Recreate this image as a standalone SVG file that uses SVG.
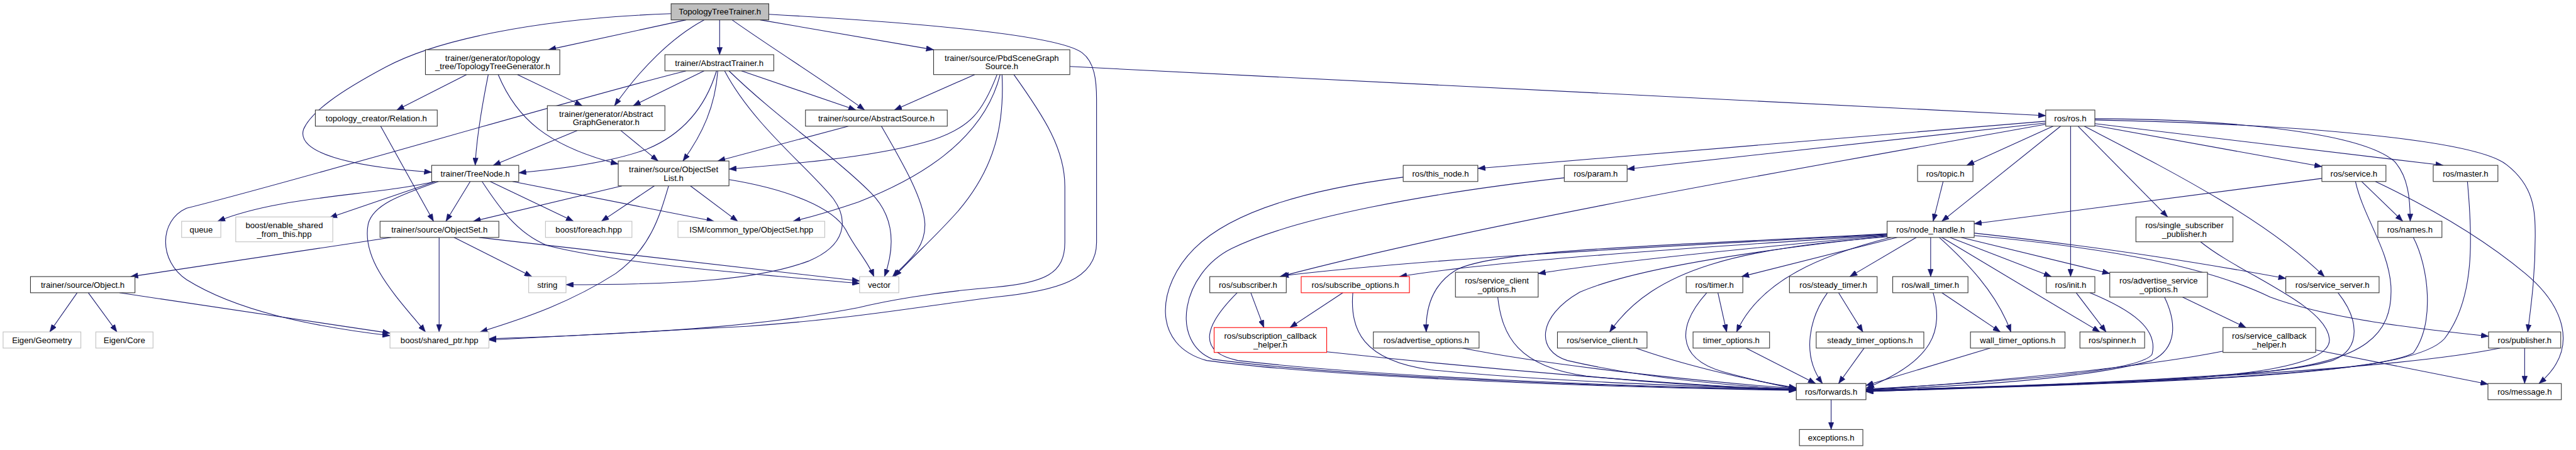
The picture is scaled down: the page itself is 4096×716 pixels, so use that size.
<svg xmlns="http://www.w3.org/2000/svg" width="4096" height="716" viewBox="0 0 4096 716">
<style>
.n rect{fill:#fff;stroke:#333;stroke-width:1.1}
.g rect{stroke:#bfbfbf}
.r rect{stroke:#ff0000}
.root rect{fill:#bfbfbf}
text{font-family:"Liberation Sans",Arial,sans-serif;font-size:13.33px;text-anchor:middle;fill:#000}
.e path{fill:none;stroke:#191970;stroke-width:1.1;marker-end:url(#ah)}
</style>
<defs>
<marker id="ah" markerUnits="userSpaceOnUse" markerWidth="12" markerHeight="9" refX="12" refY="4.5" orient="auto"><path d="M0,0 L12,4.5 L0,9 z" fill="#191970" stroke="#191970" stroke-width="0.5"/></marker>
</defs>
<rect width="4096" height="716" fill="#fff"/>
<g transform="scale(0.989)">
<g id="edges" class="e">
<path d="M1079,22 C860,30 700,65 620,108 C545,148 500,180 488,208 C476,245 560,268 694,277"/>
<path d="M1103,32 L882,80"/>
<path d="M1132,32 C1080,60 1030,110 988,170"/>
<path d="M1157,32 L1157,88"/>
<path d="M1177,32 C1230,70 1340,140 1390,177"/>
<path d="M1222,32 L1501,80"/>
<path d="M1236,23 C1450,35 1700,55 1740,85 C1760,100 1763,130 1763,160 L1763,390 C1763,450 1700,468 1600,478 C1480,493 1380,512 1200,525 L786,547"/>
<path d="M1630,120 C1680,190 1712,240 1712,300 L1712,390 C1712,440 1680,455 1600,462 C1500,470 1420,485 1380,495 C1250,520 1100,535 786,545"/>
<path d="M1152,114 C1135,170 1100,215 1040,240 C980,262 900,272 834,278"/>
<path d="M1132,114 L1018,170"/>
<path d="M1154,114 C1150,170 1130,215 1098,259"/>
<path d="M1192,114 L1376,177"/>
<path d="M1165,114 C1210,200 1300,270 1340,320 C1365,355 1360,395 1300,420 C1220,450 1100,458 910,458"/>
<path d="M1172,114 C1250,190 1340,250 1400,310 C1440,350 1438,400 1422,445"/>
<path d="M1103,114 C900,165 500,285 300,335 C255,355 255,420 300,450 C380,500 500,525 627,540"/>
<path d="M750,120 L638,177"/>
<path d="M785,120 C775,170 766,220 764,266"/>
<path d="M832,120 L936,170"/>
<path d="M801,120 C830,190 880,235 994,264"/>
<path d="M928,210 L793,266"/>
<path d="M998,210 L1058,259"/>
<path d="M612,203 L697,356"/>
<path d="M1364,203 L1154,259"/>
<path d="M1417,203 C1450,260 1485,320 1487,360 C1488,400 1460,420 1435,445"/>
<path d="M1567,120 L1438,177"/>
<path d="M1603,120 C1580,180 1560,205 1500,225 C1420,250 1300,262 1172,272"/>
<path d="M1608,120 C1580,230 1470,290 1380,325 C1330,342 1300,350 1275,356"/>
<path d="M1611,120 C1615,200 1600,270 1540,340 C1500,385 1470,410 1438,445"/>
<path d="M1720,107 L3289,186"/>
<path d="M1000,299 L761,356"/>
<path d="M1052,299 L967,356"/>
<path d="M1110,299 L1186,356"/>
<path d="M1075,299 C1060,350 1045,400 990,440 C920,485 850,510 772,534"/>
<path d="M1172,289 C1270,305 1340,335 1360,370 C1375,400 1395,420 1405,445"/>
<path d="M700,292 C600,315 450,315 350,356"/>
<path d="M700,292 L530,350"/>
<path d="M705,292 C640,315 600,330 592,360 C580,420 640,480 684,534"/>
<path d="M756,292 L717,356"/>
<path d="M788,292 L922,356"/>
<path d="M824,292 L1148,356"/>
<path d="M775,292 C800,330 830,375 880,395 C1000,425 1200,440 1382,456"/>
<path d="M629,382 L210,445"/>
<path d="M730,382 L855,445"/>
<path d="M706,382 L706,534"/>
<path d="M770,382 L1382,452"/>
<path d="M124,471 L80,534"/>
<path d="M142,471 L188,534"/>
<path d="M192,471 L627,536"/>
<path d="M3289,195 L2376,271"/>
<path d="M3289,198 L2616,272"/>
<path d="M3289,200 C2900,270 2400,355 2058,445"/>
<path d="M3301,203 L3162,266"/>
<path d="M3313,203 L3122,356"/>
<path d="M3329,203 L3329,445"/>
<path d="M3341,203 L3485,349"/>
<path d="M3351,203 C3480,270 3640,350 3737,445"/>
<path d="M3368,191 C3600,192 3800,215 3850,260 C3872,285 3875,320 3875,356"/>
<path d="M3368,193 C3700,200 3980,225 4030,265 C4075,300 4076,340 4076,380 C4076,450 4068,500 4064,534"/>
<path d="M3368,199 L3928,266"/>
<path d="M3368,202 L3733,268"/>
<path d="M3124,292 L3108,356"/>
<path d="M3733,287 L3174,360"/>
<path d="M3797,292 L3863,356"/>
<path d="M3819,292 C3920,340 4000,390 4060,440 C4120,490 4150,560 4082,617"/>
<path d="M3787,292 C3800,350 3840,400 3844,460 C3848,540 3800,580 3650,597 C3450,615 3200,622 3000,628"/>
<path d="M3967,292 C3975,380 3980,480 3930,545 C3880,600 3600,612 3000,630"/>
<path d="M3880,382 C3905,430 3915,520 3880,568 C3820,600 3500,615 3000,629"/>
<path d="M4059,560 L4059,617"/>
<path d="M4020,560 C3900,585 3600,610 3000,630"/>
<path d="M3759,471 C3790,510 3800,560 3750,580 C3650,610 3300,620 3000,628"/>
<path d="M3538,389 C3600,440 3740,490 3745,545 C3750,590 3600,605 3440,614 C3300,620 3150,626 3000,628"/>
<path d="M3723,563 L4000,618"/>
<path d="M3574,565 C3450,590 3200,615 3000,627"/>
<path d="M3509,478 L3611,527"/>
<path d="M3480,478 C3500,520 3500,560 3460,580 C3350,610 3150,622 3000,627"/>
<path d="M3338,471 L3386,534"/>
<path d="M3360,471 C3430,500 3470,530 3460,570 C3440,600 3200,615 3000,626"/>
<path d="M3122,471 L3216,534"/>
<path d="M3108,471 C3125,530 3110,580 3001,624"/>
<path d="M3200,560 L3000,620"/>
<path d="M2956,471 L2995,534"/>
<path d="M2938,471 C2910,510 2895,570 2930,617"/>
<path d="M2997,560 L2956,617"/>
<path d="M2762,471 L2776,534"/>
<path d="M2744,471 C2700,520 2690,575 2770,598 C2820,612 2860,620 2888,626"/>
<path d="M2807,560 L2919,617"/>
<path d="M2630,560 C2700,585 2800,610 2888,624"/>
<path d="M2351,560 C2500,590 2750,615 2888,625"/>
<path d="M2408,478 C2415,540 2440,590 2550,605 C2700,620 2800,624 2888,626"/>
<path d="M2159,471 L2074,527"/>
<path d="M2175,471 C2170,530 2190,580 2300,595 C2500,615 2750,622 2888,627"/>
<path d="M2133,566 C2400,595 2700,620 2888,627"/>
<path d="M2011,471 L2032,527"/>
<path d="M1989,471 C1940,520 1920,565 1990,580 C2200,605 2600,622 2888,627"/>
<path d="M2256,285 C2100,305 1980,340 1920,400 C1860,460 1850,555 1940,580 C2150,608 2600,624 2888,628"/>
<path d="M2515,286 C2300,310 2080,350 1980,400 C1900,440 1880,550 1950,578 C2150,606 2600,623 2888,627"/>
<path d="M3034,377 C2700,395 2300,415 2060,444"/>
<path d="M3034,378 C2700,400 2400,420 2250,445"/>
<path d="M3034,379 C2800,400 2600,420 2473,440"/>
<path d="M3034,376 C2700,395 2400,400 2340,435 C2300,460 2292,500 2293,534"/>
<path d="M3034,380 C2800,405 2620,435 2540,470 C2470,510 2470,565 2520,580 C2650,610 2800,622 2888,626"/>
<path d="M3034,381 C2800,400 2660,430 2588,534"/>
<path d="M3050,382 L2800,445"/>
<path d="M3040,382 C2930,410 2830,450 2792,534"/>
<path d="M3081,382 L2974,445"/>
<path d="M3104,382 L3104,445"/>
<path d="M3118,382 C3160,420 3210,470 3233,534"/>
<path d="M3122,382 L3376,534"/>
<path d="M3135,382 L3298,445"/>
<path d="M3153,382 L3392,440"/>
<path d="M3174,375 C3400,400 3550,425 3675,448"/>
<path d="M3174,379 C3400,400 3550,430 3650,478 C3750,515 3900,530 4001,541"/>
<path d="M2944,643 L2944,691"/>
</g>
<g id="n_root" class="n root"><rect x="1079" y="6" width="157" height="26"/><text x="1157.5" y="23.7">TopologyTreeTrainer.h</text></g>
<g id="n_tgen" class="n"><rect x="684" y="80" width="216" height="40"/><text x="792" y="97.7">trainer/generator/topology</text><text x="792" y="111.7">_tree/TopologyTreeGenerator.h</text></g>
<g id="n_relation" class="n"><rect x="507" y="177" width="196" height="26"/><text x="605" y="194.7">topology_creator/Relation.h</text></g>
<g id="n_treenode" class="n"><rect x="694" y="266" width="140" height="26"/><text x="764" y="283.7">trainer/TreeNode.h</text></g>
<g id="n_agg" class="n"><rect x="880" y="170" width="189" height="40"/><text x="974.5" y="187.7">trainer/generator/Abstract</text><text x="974.5" y="201.7">GraphGenerator.h</text></g>
<g id="n_at" class="n"><rect x="1069" y="88" width="175" height="26"/><text x="1156.5" y="105.7">trainer/AbstractTrainer.h</text></g>
<g id="n_asrc" class="n"><rect x="1295" y="177" width="228" height="26"/><text x="1409" y="194.7">trainer/source/AbstractSource.h</text></g>
<g id="n_pbd" class="n"><rect x="1501" y="80" width="219" height="40"/><text x="1610.5" y="97.7">trainer/source/PbdSceneGraph</text><text x="1610.5" y="111.7">Source.h</text></g>
<g id="n_osl" class="n"><rect x="994" y="259" width="178" height="40"/><text x="1083" y="276.7">trainer/source/ObjectSet</text><text x="1083" y="290.7">List.h</text></g>
<g id="n_queue" class="n g"><rect x="292" y="356" width="63" height="26"/><text x="323.5" y="373.7">queue</text></g>
<g id="n_enable" class="n g"><rect x="379" y="349" width="156" height="40"/><text x="457" y="366.7">boost/enable_shared</text><text x="457" y="380.7">_from_this.hpp</text></g>
<g id="n_os" class="n"><rect x="611" y="356" width="191" height="26"/><text x="706.5" y="373.7">trainer/source/ObjectSet.h</text></g>
<g id="n_foreach" class="n g"><rect x="877" y="356" width="139" height="26"/><text x="946.5" y="373.7">boost/foreach.hpp</text></g>
<g id="n_ism" class="n g"><rect x="1090" y="356" width="236" height="26"/><text x="1208" y="373.7">ISM/common_type/ObjectSet.hpp</text></g>
<g id="n_obj" class="n"><rect x="49" y="445" width="168" height="26"/><text x="133" y="462.7">trainer/source/Object.h</text></g>
<g id="n_string" class="n g"><rect x="850" y="445" width="60" height="26"/><text x="880" y="462.7">string</text></g>
<g id="n_vector" class="n g"><rect x="1382" y="445" width="63" height="26"/><text x="1413.5" y="462.7">vector</text></g>
<g id="n_eigeo" class="n g"><rect x="5" y="534" width="125" height="26"/><text x="67.5" y="551.7">Eigen/Geometry</text></g>
<g id="n_eicore" class="n g"><rect x="154" y="534" width="92" height="26"/><text x="200" y="551.7">Eigen/Core</text></g>
<g id="n_shared" class="n g"><rect x="627" y="534" width="159" height="26"/><text x="706.5" y="551.7">boost/shared_ptr.hpp</text></g>
<g id="n_ros" class="n"><rect x="3289" y="177" width="79" height="26"/><text x="3328.5" y="194.7">ros/ros.h</text></g>
<g id="n_thisnode" class="n"><rect x="2256" y="266" width="120" height="26"/><text x="2316" y="283.7">ros/this_node.h</text></g>
<g id="n_param" class="n"><rect x="2515" y="266" width="101" height="26"/><text x="2565.5" y="283.7">ros/param.h</text></g>
<g id="n_topic" class="n"><rect x="3083" y="266" width="89" height="26"/><text x="3127.5" y="283.7">ros/topic.h</text></g>
<g id="n_service" class="n"><rect x="3733" y="266" width="103" height="26"/><text x="3784.5" y="283.7">ros/service.h</text></g>
<g id="n_master" class="n"><rect x="3912" y="266" width="104" height="26"/><text x="3964" y="283.7">ros/master.h</text></g>
<g id="n_nh" class="n"><rect x="3034" y="356" width="140" height="26"/><text x="3104" y="373.7">ros/node_handle.h</text></g>
<g id="n_ssp" class="n"><rect x="3434" y="349" width="156" height="40"/><text x="3512" y="366.7">ros/single_subscriber</text><text x="3512" y="380.7">_publisher.h</text></g>
<g id="n_names" class="n"><rect x="3823" y="356" width="103" height="26"/><text x="3874.5" y="373.7">ros/names.h</text></g>
<g id="n_subscriber" class="n"><rect x="1945" y="445" width="123" height="26"/><text x="2006.5" y="462.7">ros/subscriber.h</text></g>
<g id="n_subopts" class="n r"><rect x="2092" y="445" width="174" height="26"/><text x="2179" y="462.7">ros/subscribe_options.h</text></g>
<g id="n_sco" class="n"><rect x="2340" y="438" width="133" height="40"/><text x="2406.5" y="455.7">ros/service_client</text><text x="2406.5" y="469.7">_options.h</text></g>
<g id="n_timer" class="n"><rect x="2711" y="445" width="91" height="26"/><text x="2756.5" y="462.7">ros/timer.h</text></g>
<g id="n_steady" class="n"><rect x="2877" y="445" width="141" height="26"/><text x="2947.5" y="462.7">ros/steady_timer.h</text></g>
<g id="n_wall" class="n"><rect x="3043" y="445" width="121" height="26"/><text x="3103.5" y="462.7">ros/wall_timer.h</text></g>
<g id="n_init" class="n"><rect x="3290" y="445" width="78" height="26"/><text x="3329" y="462.7">ros/init.h</text></g>
<g id="n_aso" class="n"><rect x="3392" y="438" width="157" height="40"/><text x="3470.5" y="455.7">ros/advertise_service</text><text x="3470.5" y="469.7">_options.h</text></g>
<g id="n_ss" class="n"><rect x="3675" y="445" width="150" height="26"/><text x="3750" y="462.7">ros/service_server.h</text></g>
<g id="n_schsub" class="n r"><rect x="1952" y="527" width="181" height="40"/><text x="2042.5" y="544.7">ros/subscription_callback</text><text x="2042.5" y="558.7">_helper.h</text></g>
<g id="n_advopts" class="n"><rect x="2208" y="534" width="170" height="26"/><text x="2293" y="551.7">ros/advertise_options.h</text></g>
<g id="n_sc" class="n"><rect x="2504" y="534" width="144" height="26"/><text x="2576" y="551.7">ros/service_client.h</text></g>
<g id="n_timeropts" class="n"><rect x="2722" y="534" width="123" height="26"/><text x="2783.5" y="551.7">timer_options.h</text></g>
<g id="n_steadyopts" class="n"><rect x="2920" y="534" width="173" height="26"/><text x="3006.5" y="551.7">steady_timer_options.h</text></g>
<g id="n_wallopts" class="n"><rect x="3168" y="534" width="152" height="26"/><text x="3244" y="551.7">wall_timer_options.h</text></g>
<g id="n_spinner" class="n"><rect x="3344" y="534" width="104" height="26"/><text x="3396" y="551.7">ros/spinner.h</text></g>
<g id="n_sch" class="n"><rect x="3574" y="527" width="149" height="40"/><text x="3648.5" y="544.7">ros/service_callback</text><text x="3648.5" y="558.7">_helper.h</text></g>
<g id="n_pub" class="n"><rect x="4001" y="534" width="116" height="26"/><text x="4059" y="551.7">ros/publisher.h</text></g>
<g id="n_fwd" class="n"><rect x="2888" y="617" width="112" height="26"/><text x="2944" y="634.7">ros/forwards.h</text></g>
<g id="n_msg" class="n"><rect x="4000" y="617" width="118" height="26"/><text x="4059" y="634.7">ros/message.h</text></g>
<g id="n_exc" class="n"><rect x="2893" y="691" width="102" height="26"/><text x="2944" y="708.7">exceptions.h</text></g>
</g>
</svg>
